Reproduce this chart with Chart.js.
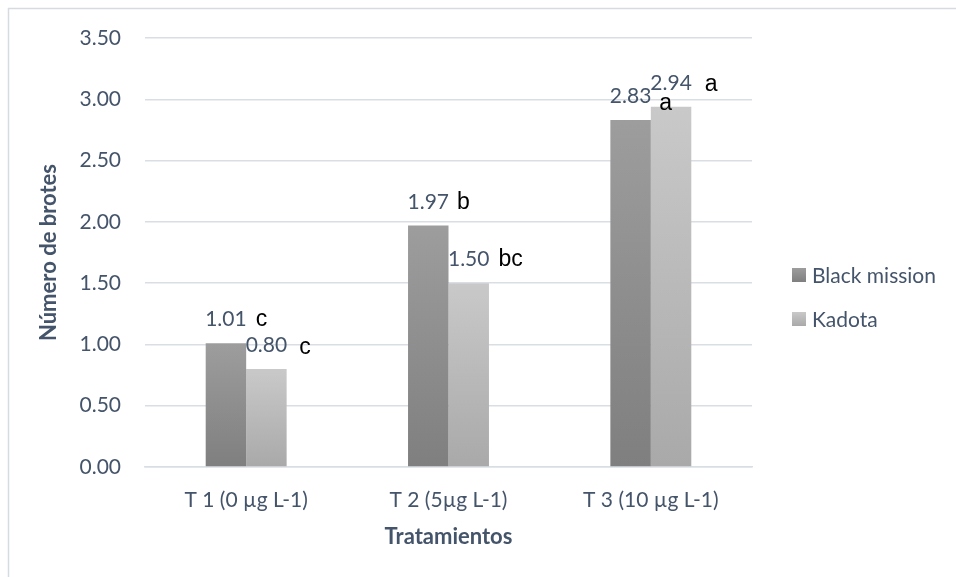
<!DOCTYPE html>
<html>
<head>
<meta charset="utf-8">
<script src="https://cdn.jsdelivr.net/npm/chart.js@4.4.1/dist/chart.umd.min.js"></script>
<style>
  html, body { margin: 0; padding: 0; background: #ffffff; }
  #wrap { width: 956px; height: 577px; }
</style>
</head>
<body>
<div id="wrap"><canvas id="chart" width="956" height="577"></canvas></div>
<script>
// Treatments on the x axis
const categories = ['T 1 (0 µg L-1)', 'T 2 (5µg L-1)', 'T 3 (10 µg L-1)'];

// Mean number of shoots per variety
const blackMission = [1.01, 1.97, 2.83];
const kadota = [0.80, 1.50, 2.94];

// Significance letters shown next to each value
const blackMissionLetters = ['c', 'b', 'a'];
const kadotaLetters = ['c', 'bc', 'a'];

// Value axis
const yMin = 0;
const yMax = 3.5;
const yStep = 0.5;

const seriesNames = ['Black mission', 'Kadota'];

const TEXT_COLOR = '#44546a';
const GRID_COLOR = '#d9dde4';
const LABEL_FONT = 'Lato, "Open Sans", sans-serif';
const LETTER_FONT = '"Liberation Sans", Arial, sans-serif';

const barShades = [
  { top: '#9d9d9d', bottom: '#7f7f7f' },
  { top: '#c9c9c9', bottom: '#a9a9a9' }
];

// Vertical gradient spanning each individual bar
function barGradient(ctx, shade) {
  const chart = ctx.chart;
  const y = chart.scales && chart.scales.y;
  if (ctx.type !== 'data' || !y || typeof ctx.raw !== 'number') return shade.top;
  const yTop = y.getPixelForValue(ctx.raw);
  const yBase = y.getPixelForValue(0);
  if (!isFinite(yTop) || !isFinite(yBase) || yTop === yBase) return shade.top;
  const g = chart.ctx.createLinearGradient(0, yTop, 0, yBase);
  g.addColorStop(0, shade.top);
  g.addColorStop(1, shade.bottom);
  return g;
}

// Placement tweaks for the value/letter labels, per series and category
const labelTweaks = [
  [ { gap: 9, letterDy: 0 }, { gap: 8, letterDy: 0 }, { gap: 8, letterDy: 7 } ],
  [ { gap: 12, letterDy: 2 }, { gap: 9, letterDy: 0 }, { gap: 13, letterDy: 1 } ]
];

const framePlugin = {
  id: 'frame',
  beforeDraw(chart) {
    const c = chart.ctx;
    c.save();
    c.fillStyle = '#ffffff';
    c.fillRect(0, 0, chart.width, chart.height);
    c.strokeStyle = '#d6dbe2';
    c.lineWidth = 1.5;
    c.strokeRect(8.5, 8.5, chart.width + 20, chart.height + 20);
    c.restore();
  }
};

const valueLabelPlugin = {
  id: 'valueLabels',
  afterDatasetsDraw(chart) {
    const c = chart.ctx;
    const letters = [blackMissionLetters, kadotaLetters];
    c.save();
    chart.data.datasets.forEach((ds, di) => {
      const meta = chart.getDatasetMeta(di);
      meta.data.forEach((bar, i) => {
        const v = ds.data[i];
        const txt = v.toFixed(2);
        const baseY = bar.y - 17;
        c.font = '21px ' + LABEL_FONT;
        c.fillStyle = TEXT_COLOR;
        c.textAlign = 'center';
        c.textBaseline = 'alphabetic';
        c.fillText(txt, bar.x, baseY);
        const w = c.measureText(txt).width;
        const tw = labelTweaks[di][i];
        c.font = '23px ' + LETTER_FONT;
        c.fillStyle = '#000000';
        c.textAlign = 'left';
        c.fillText(letters[di][i], bar.x + w / 2 + tw.gap, baseY + tw.letterDy);
      });
    });
    c.restore();
  }
};

const legendPlugin = {
  id: 'sideLegend',
  afterDraw(chart) {
    const c = chart.ctx;
    c.save();
    const x = 792, size = 14;
    const rows = [275, 319];
    seriesNames.forEach((name, i) => {
      const cy = rows[i];
      const g = c.createLinearGradient(0, cy - size / 2, 0, cy + size / 2);
      g.addColorStop(0, barShades[i].top);
      g.addColorStop(1, barShades[i].bottom);
      c.fillStyle = g;
      c.fillRect(x, cy - size / 2, size, size);
      c.font = '21px ' + LABEL_FONT;
      c.fillStyle = TEXT_COLOR;
      c.textAlign = 'left';
      c.textBaseline = 'middle';
      c.fillText(name, x + 20, cy + 1);
    });
    c.restore();
  }
};

new Chart(document.getElementById('chart'), {
  type: 'bar',
  data: {
    labels: categories,
    datasets: [
      {
        label: seriesNames[0],
        data: blackMission,
        backgroundColor: ctx => barGradient(ctx, barShades[0]),
        categoryPercentage: 0.4,
        barPercentage: 1.0
      },
      {
        label: seriesNames[1],
        data: kadota,
        backgroundColor: ctx => barGradient(ctx, barShades[1]),
        categoryPercentage: 0.4,
        barPercentage: 1.0
      }
    ]
  },
  options: {
    responsive: false,
    devicePixelRatio: 1,
    animation: false,
    layout: { padding: { top: 38, right: 204, bottom: 0, left: 0 } },
    plugins: {
      legend: { display: false },
      tooltip: { enabled: false }
    },
    scales: {
      x: {
        grid: { display: false, drawTicks: false },
        border: { display: true, color: GRID_COLOR, width: 1.5 },
        ticks: {
          color: TEXT_COLOR,
          font: { family: LABEL_FONT, size: 21 },
          padding: 21,
          maxRotation: 0
        },
        title: {
          display: true,
          text: 'Tratamientos',
          color: TEXT_COLOR,
          font: { family: LABEL_FONT, size: 22, weight: 'bold' },
          padding: { top: 0, bottom: 27 }
        },
        afterFit(scale) { scale.height = 110; }
      },
      y: {
        min: yMin,
        max: yMax,
        grid: { color: GRID_COLOR, lineWidth: 1.5, drawTicks: false },
        border: { display: false },
        ticks: {
          stepSize: yStep,
          color: TEXT_COLOR,
          font: { family: LABEL_FONT, size: 21 },
          padding: 24,
          callback: v => Number(v).toFixed(2)
        },
        title: {
          display: true,
          text: 'Número de brotes',
          color: TEXT_COLOR,
          font: { family: LABEL_FONT, size: 22, weight: 'bold' },
          padding: { top: 36, bottom: 0 }
        },
        afterFit(scale) { scale.width = 145; }
      }
    }
  },
  plugins: [framePlugin, valueLabelPlugin, legendPlugin]
});
</script>
</body>
</html>
